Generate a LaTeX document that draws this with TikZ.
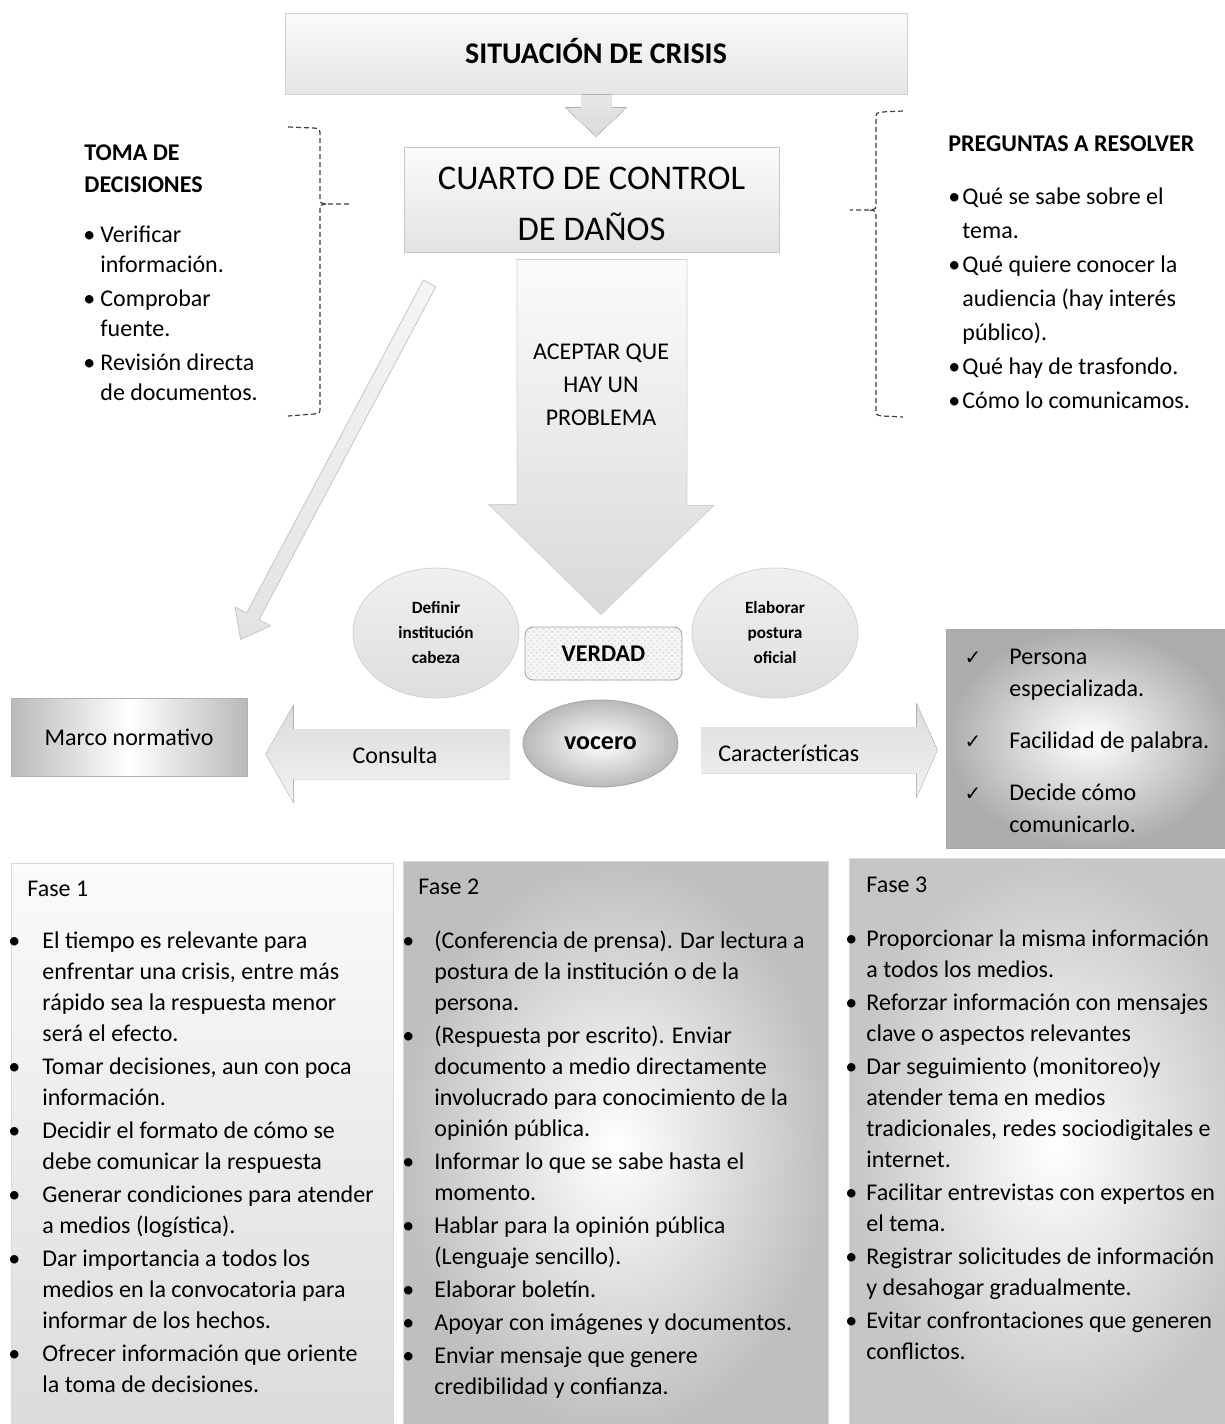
\documentclass[tikz,border=0pt]{standalone}
\usepackage{fontspec}
\setmainfont{Carlito}
\newfontfamily\symfont{DejaVu Sans}
\usepackage{tikz}
\usetikzlibrary{calc, shapes.geometric, patterns}

\newcommand{\tstrut}{\rule{0pt}{11pt}}
\newcommand{\bul}[1]{\llap{\textbullet\hspace{#1}}}
\newcommand{\chk}{\llap{{\symfont\fontsize{10}{10}\selectfont ✓}\hspace{14pt}}}

\tikzset{
  panel/.style={draw=gray!40, inner sep=2pt},
  txt/.style={inner sep=0pt, align=left, anchor=north west, font=\fontsize{12}{15.5}\selectfont},
  lbl/.style={inner sep=0pt, font=\fontsize{12}{14}\selectfont},
  dashbrace/.style={draw=black!75, line width=0.6pt, dash pattern=on 2.5pt off 1.5pt},
  bubble/.style={ellipse, draw=gray!35, top color=gray!12, bottom color=gray!26, minimum width=83pt, minimum height=65pt, inner sep=0pt, align=center, font=\fontsize{8.6}{12.5}\selectfont\bfseries},
  flatarrow/.style={top color=gray!28, bottom color=gray!10}
}

\begin{document}
\begin{tikzpicture}[x=0.5pt,y=0.5pt,yscale=-1,xscale=1]
\useasboundingbox (0,0) rectangle (1225,1424);
\fill[white] (0,0) rectangle (1225,1424);
% fases
\draw[draw=gray!30, top color=gray!3, bottom color=gray!28] (11,863) rectangle (393,1432);
\draw[draw=gray!30, inner color=white, outer color=gray!50] (403,861) rectangle (828,1432);
\draw[draw=gray!30, inner color=white, outer color=gray!45] (849,858) rectangle (1262,1432);
% llaves
\draw[dashbrace] (288,127) -- (314,128) .. controls (320,129) .. (320,136) -- (320,197) .. controls (320,203) .. (326,204) -- (350,204);
\draw[dashbrace] (326,204) .. controls (320,205) .. (320,211) -- (320,407) .. controls (320,413) .. (314,414) -- (288,416);
\draw[dashbrace] (903,111) -- (882,112) .. controls (876,113) .. (876,119) -- (876,203) .. controls (876,209) .. (870,210) -- (850,210);
\draw[dashbrace] (870,210) .. controls (876,211) .. (876,217) -- (876,409) .. controls (876,415) .. (882,416) -- (903,417);
% cajas superiores
\node[panel, draw=gray!35, top color=gray!4, bottom color=gray!20, minimum width=311pt, minimum height=40.5pt, font=\fontsize{15}{18}\selectfont\bfseries] (crisis) at (596,53.5) {\rule[-3pt]{0pt}{3pt}SITUACIÓN DE CRISIS};
\node[panel, draw=gray!45, top color=gray!3, bottom color=gray!22, minimum width=187.5pt, minimum height=52.5pt, align=center, font=\fontsize{17.3}{25.5}\selectfont] (cuarto) at (591.5,199.5) {\rule{0pt}{16pt}CUARTO DE CONTROL\\DE DAÑOS};
\fill[top color=gray!18, bottom color=gray!30] ($(crisis.south)+(-15,0)$) -- ++(30,0) -- ++(0,13) -- ++(16,0) -- ($(cuarto.north)+(4.5,-10)$) -- ($(crisis.south)+(-31,13)$) -- ++(16,0) -- cycle;
% centro
\node[bubble] (definir) at (436,633) {Definir\\institución\\cabeza};
\node[bubble] (elaborar) at (775,633) {Elaborar\\postura\\oficial};
\node[draw=gray!75, rounded corners=4pt, preaction={fill=gray!8}, pattern=crosshatch dots, pattern color=gray!30, minimum width=78.5pt, minimum height=26.5pt, font=\fontsize{12}{14}\selectfont\bfseries] (verdad) at (603.5,653.5) {VERDAD};
\node[ellipse, draw=gray!70, inner color=white, outer color=gray!55, minimum width=77.5pt, minimum height=43.5pt, font=\fontsize{13}{15}\selectfont\bfseries] (vocero) at (600.5,743.5) {vocero};
\draw[draw=gray!35, top color=gray!3, bottom color=gray!30] ($(cuarto.south)+(-74.5,7)$) -- ++(170,0) -- ++(0,246) -- ++(27,0) -- ($(verdad.north)+(-2.5,-12)$) -- ++(-112,-110) -- ++(28,0) -- cycle;
\draw[draw=gray!45, top color=gray!8, bottom color=gray!22] ($(cuarto.south west)+(19.8,27.7)$) -- ++(-176.8,333) -- ++(-11.5,-6.1) -- ++(5.5,32.4) -- ++(29.9,-13.6) -- ++(-11.5,-6.1) -- ++(176.8,-333) -- cycle;
% consulta y caracteristicas
\fill[flatarrow] ($(vocero.west)+(-13,-14.5)$) -- ++(-216,0) -- ++(0,-24) -- ++(-28,49) -- ++(28,49) -- ++(0,-24) -- ++(216,0) -- cycle;
\fill[flatarrow] ($(vocero.east)+(23,-16.5)$) -- ++(215,0) -- ++(0,-24) -- ++(21,47) -- ++(-21,48) -- ++(0,-25) -- ++(-215,0) -- cycle;
\node[draw=gray!60, left color=gray!55, right color=gray!55, middle color=white, minimum width=118pt, minimum height=39pt, font=\fontsize{12}{14}\selectfont] (marco) at (129,737.5) {Marco normativo};
\draw[draw=gray!70, inner color=white, outer color=gray!65] (946,629) rectangle (1232,848);
% textos
\node[txt, font=\fontsize{12}{16}\selectfont\bfseries] (toma) at (84,138) {\tstrut TOMA DE\\DECISIONES};
\node[txt, font=\fontsize{12}{15.25}\selectfont] (tomalist) at (100,220) {\tstrut\bul{2.5pt}Verificar\\información.\\[1.5pt]\bul{2.5pt}Comprobar\\fuente.\\[1.5pt]\bul{2.5pt}Revisión directa\\de documentos.};
\node[lbl, anchor=base west, font=\fontsize{12}{14}\selectfont\bfseries] (preguntas) at (948,151) {PREGUNTAS A RESOLVER};
\node[txt, font=\fontsize{12}{17}\selectfont] (preglist) at (962,182) {\tstrut\bul{1pt}Qué se sabe sobre el\\tema.\\\bul{1pt}Qué quiere conocer la\\audiencia (hay interés\\público).\\\bul{1pt}Qué hay de trasfondo.\\\bul{1pt}Cómo lo comunicamos.};
\node[txt, anchor=north, align=center, font=\fontsize{12}{16.5}\selectfont] (aceptar) at (601,337) {\tstrut ACEPTAR QUE\\HAY UN\\PROBLEMA};
\node[lbl, anchor=base] (consulta) at (395,763) {Consulta};
\node[lbl, anchor=base west] (caract) at (718,761) {Características};
\node[txt, font=\fontsize{12}{16}\selectfont] (checks) at (1009,642) {\tstrut\chk Persona\\especializada.\\[10pt]\chk Facilidad de palabra.\\[10pt]\chk Decide cómo\\comunicarlo.};
\node[lbl, anchor=base west] (fase1) at (27,896) {Fase 1};
\node[lbl, anchor=base west] (fase2) at (418,894) {Fase 2};
\node[lbl, anchor=base west] (fase3) at (866,892) {Fase 3};
\node[txt] (fase1list) at (42,926) {\tstrut\bul{11pt}El tiempo es relevante para\\enfrentar una crisis, entre más\\rápido sea la respuesta menor\\será el efecto.\\[1pt]\bul{11pt}Tomar decisiones, aun con poca\\información.\\[1pt]\bul{11pt}Decidir el formato de cómo se\\debe comunicar la respuesta\\[1pt]\bul{11pt}Generar condiciones para atender\\a medios (logística).\\[1pt]\bul{11pt}Dar importancia a todos los\\medios en la convocatoria para\\informar de los hechos.\\[1pt]\bul{11pt}Ofrecer información que oriente\\la toma de decisiones.};
\node[txt] (fase2list) at (434,926) {\tstrut\bul{10pt}(Conferencia de prensa). Dar lectura a\\postura de la institución o de la\\persona.\\[1pt]\bul{10pt}(Respuesta por escrito). Enviar\\documento a medio directamente\\involucrado para conocimiento de la\\opinión pública.\\[1pt]\bul{10pt}Informar lo que se sabe hasta el\\momento.\\[1pt]\bul{10pt}Hablar para la opinión pública\\(Lenguaje sencillo).\\[1pt]\bul{10pt}Elaborar boletín.\\[1pt]\bul{10pt}Apoyar con imágenes y documentos.\\[1pt]\bul{10pt}Enviar mensaje que genere\\credibilidad y confianza.};
\node[txt] (fase3list) at (866,924) {\tstrut\bul{4.5pt}Proporcionar la misma información\\a todos los medios.\\[1pt]\bul{4.5pt}Reforzar información con mensajes\\clave o aspectos relevantes\\[1pt]\bul{4.5pt}Dar seguimiento (monitoreo)y\\atender tema en medios\\tradicionales, redes sociodigitales e\\internet.\\[1pt]\bul{4.5pt}Facilitar entrevistas con expertos en\\el tema.\\[1pt]\bul{4.5pt}Registrar solicitudes de información\\y desahogar gradualmente.\\[1pt]\bul{4.5pt}Evitar confrontaciones que generen\\conflictos.};
\end{tikzpicture}
\end{document}
